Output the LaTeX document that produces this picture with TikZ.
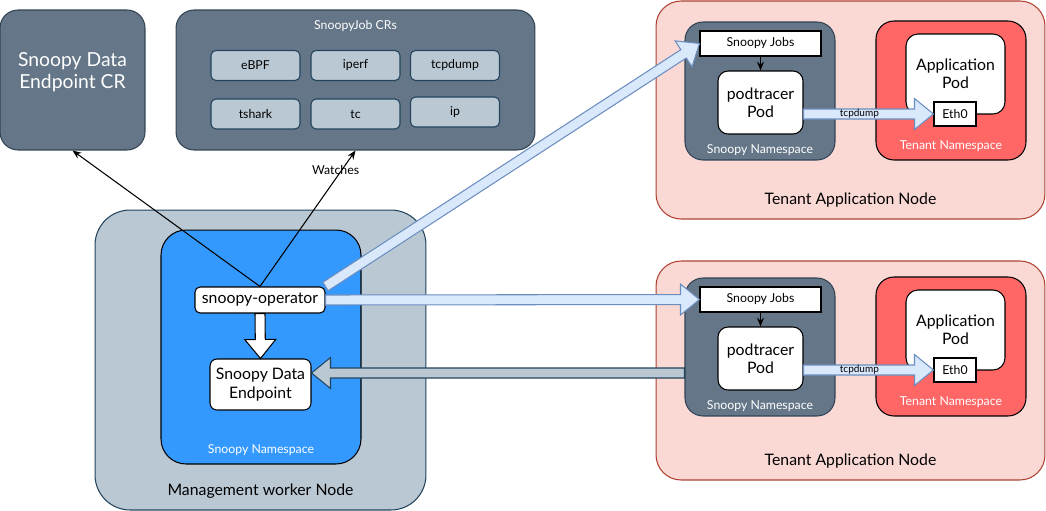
\documentclass[tikz,border=0pt]{standalone}
\usepackage{fontspec}
\setmainfont{Lato}
\usetikzlibrary{arrows.meta,calc}

\definecolor{slate}{HTML}{647687}
\definecolor{slateline}{HTML}{314354}
\definecolor{steel}{HTML}{BAC8D3}
\definecolor{steelline}{HTML}{23445D}
\definecolor{nsblue}{HTML}{3399FF}
\definecolor{tenant}{HTML}{FAD9D5}
\definecolor{tenantline}{HTML}{AE4132}
\definecolor{tenantred}{HTML}{FF6666}
\definecolor{flexfill}{HTML}{DAE8FC}
\definecolor{flexline}{HTML}{6C8EBF}

\newcommand\fxl{\fontsize{11}{12.5}\selectfont}
\newcommand\flg{\fontsize{9}{10.4}\selectfont}
\newcommand\fsm{\fontsize{7}{8}\selectfont}
\newcommand\fxs{\fontsize{5.7}{7}\selectfont}

\begin{document}
\begin{tikzpicture}[x=0.02cm,y=-0.02cm,line width=0.6pt,
  cr/.style={fill=slate,draw=slateline,rounded corners=0.36cm},
  tool/.style={fill=steel,draw=steelline,rounded corners=0.1cm,minimum width=1.78cm,minimum height=0.6cm,inner sep=0,font=\fsm},
  pod/.style={fill=white,draw=black,align=center,inner sep=0,font=\flg},
  plain/.style={fill=white,draw=black,inner sep=0,font=\fsm},
  thin/.style={-{Stealth[length=5pt,width=4pt]}},
  flex/.style={to path={
    ($(\tikztostart)!0.1cm!90:(\tikztotarget)$)
    -- ($(\tikztotarget)!0.38cm!(\tikztostart)!0.1cm!90:(\tikztotarget)$)
    -- ($(\tikztotarget)!0.38cm!(\tikztostart)!0.31cm!90:(\tikztotarget)$)
    -- (\tikztotarget)
    -- ($(\tikztotarget)!0.38cm!(\tikztostart)!0.31cm!-90:(\tikztotarget)$)
    -- ($(\tikztotarget)!0.38cm!(\tikztostart)!0.1cm!-90:(\tikztotarget)$)
    -- ($(\tikztostart)!0.1cm!-90:(\tikztotarget)$) -- cycle}}]

  \path[use as bounding box,fill=white] (0,0) rectangle (1046,511);

  % Custom resources
  \node[cr,minimum width=2.9cm,minimum height=2.8cm] (dcr) at (72.5,80) {};
  \node[font=\fxl,text=white,align=center] at ([yshift=0.16cm]dcr.center) {Snoopy Data\\Endpoint CR};
  \node[cr,minimum width=7.18cm,minimum height=2.8cm] (jobcr) at (355.5,80) {};
  \node[font=\fsm,text=white] at ([yshift=-0.34cm]jobcr.north) {SnoopyJob CRs};
  \node[tool] (ebpf) at (255.5,65.5) {eBPF};
  \node[tool] (iperf) at (355.5,65.5) {iperf};
  \node[tool] (tcpd) at (455,65.5) {tcpdump};
  \node[tool] (tshark) at (255.5,114) {tshark};
  \node[tool] (tc) at (355.5,114) {tc};
  \node[tool] (ip) at (455,112) {ip};

  % Management worker node
  \node[fill=steel,draw=steelline,rounded corners=0.7cm,minimum width=6.62cm,minimum height=6cm] (mgmt) at (260.5,360) {};
  \node[font=\flg] at ([yshift=0.38cm]mgmt.south) {Management worker Node};
  \node[fill=nsblue,draw=black,rounded corners=0.5cm,minimum width=4cm,minimum height=4.68cm] (bluens) at (261,347) {};
  \node[font=\fsm,text=white] at ([yshift=0.28cm]bluens.south) {Snoopy Namespace};
  \node[pod,rounded corners=0.1cm,minimum width=2.6cm,minimum height=0.52cm] (op) at (260,300) {snoopy-operator};
  \node[pod,rounded corners=0.14cm,minimum width=2.02cm,minimum height=1.02cm] (ep) at (260.5,384.5) {Snoopy Data\\Endpoint};

  % Tenant application node (top)
  \node[fill=tenant,draw=tenantline,rounded corners=0.5cm,minimum width=7.78cm,minimum height=4.36cm] (tnode1) at (850.5,110) {};
  \node[font=\flg] at ([yshift=0.38cm]tnode1.south) {Tenant Application Node};
  \node[cr,minimum width=3cm,minimum height=2.76cm] (ns1) at (760,91) {};
  \node[font=\fsm,text=white] at ([yshift=0.2cm]ns1.south) {Snoopy Namespace};
  \node[plain,minimum width=2.42cm,minimum height=0.5cm] (jobs1) at (760.5,43.5) {Snoopy Jobs};
  \node[pod,rounded corners=0.2cm,minimum width=1.7cm,minimum height=1.26cm] (pod1) at (760.5,102.5) {podtracer\\Pod};
  \node[fill=tenantred,draw=black,rounded corners=0.36cm,minimum width=3cm,minimum height=2.78cm] (tns1) at (951,90.5) {};
  \node[font=\fsm,text=white] at ([yshift=0.28cm]tns1.south) {Tenant Namespace};
  \node[pod,rounded corners=0.24cm,minimum width=1.98cm,minimum height=1.6cm] (app1) at (955.5,74) {Application\\Pod};
  \node[plain,minimum width=0.84cm,minimum height=0.48cm] (eth1) at (955,114) {Eth0};

  % Tenant application node (bottom)
  \node[fill=tenant,draw=tenantline,rounded corners=0.5cm,minimum width=7.78cm,minimum height=4.38cm] (tnode2) at (850.5,370.5) {};
  \node[font=\flg] at ([yshift=0.38cm]tnode2.south) {Tenant Application Node};
  \node[cr,minimum width=3cm,minimum height=2.76cm] (ns2) at (760,347) {};
  \node[font=\fsm,text=white] at ([yshift=0.2cm]ns2.south) {Snoopy Namespace};
  \node[plain,minimum width=2.42cm,minimum height=0.5cm] (jobs2) at (760.5,299.5) {Snoopy Jobs};
  \node[pod,rounded corners=0.2cm,minimum width=1.7cm,minimum height=1.26cm] (pod2) at (760.5,358.5) {podtracer\\Pod};
  \node[fill=tenantred,draw=black,rounded corners=0.36cm,minimum width=3cm,minimum height=2.78cm] (tns2) at (951,346.5) {};
  \node[font=\fsm,text=white] at ([yshift=0.28cm]tns2.south) {Tenant Namespace};
  \node[pod,rounded corners=0.24cm,minimum width=1.98cm,minimum height=1.6cm] (app2) at (955.5,330) {Application\\Pod};
  \node[plain,minimum width=0.84cm,minimum height=0.48cm] (eth2) at (955,370) {Eth0};

  % Inside the tenant nodes
  \draw[thin] (jobs1.south) -- (pod1.north);
  \draw[thin] (jobs2.south) -- (pod2.north);
  \draw[flex,fill=flexfill,draw=flexline] (pod1.east |- eth1.west) to (eth1.west);
  \node[font=\fxs] at ($(pod1.east |- eth1.west)!0.43!(eth1.west)$) {tcpdump};
  \draw[flex,fill=flexfill,draw=flexline] (pod2.east |- eth2.west) to (eth2.west);
  \node[font=\fxs] at ($(pod2.east |- eth2.west)!0.43!(eth2.west)$) {tcpdump};

  % Operator links
  \draw[thin] (op.north) -- (dcr.south);
  \draw[thin] (op.north) -- node[pos=0.86,xshift=-0.13cm,font=\fsm] {Watches} (jobcr.south);
  \draw[flex,fill=white,draw=black] (op.south) to (ep.north);
  \draw[flex,fill=flexfill,draw=flexline] (op.north east) to (jobs1.west);
  \draw[flex,fill=flexfill,draw=flexline] (op.east) to (jobs2.west);
  \coordinate (gin) at ([yshift=0.23cm]ep.east);
  \draw[flex,fill=steel,draw=steelline] (gin -| ns2.west) to (gin);

\end{tikzpicture}
\end{document}
